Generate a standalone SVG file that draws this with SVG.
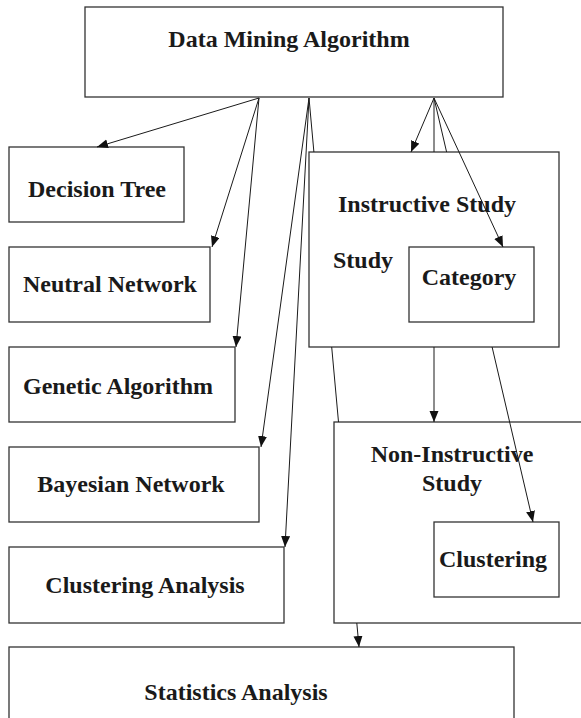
<svg xmlns="http://www.w3.org/2000/svg" width="581" height="718" viewBox="0 0 581 718">
  <style>
    .box { fill: #ffffff; stroke: #333333; stroke-width: 1.3; }
    .lbl { font-family: "Liberation Serif", "Times New Roman", serif; font-weight: bold; font-size: 24px; fill: #1a1a1a; text-anchor: middle; }
    .edge { fill: none; stroke: #1a1a1a; stroke-width: 1; }
  </style>
  <defs>
    <marker id="arrow" markerUnits="userSpaceOnUse" markerWidth="12" markerHeight="10" refX="11" refY="4.5" orient="auto">
      <path d="M0,0 L11,4.5 L0,9 z" fill="#111111"/>
    </marker>
  </defs>
  <rect width="581" height="718" fill="#ffffff"/>

  <g id="node-data-mining">
    <rect class="box" x="85" y="7" width="418" height="90"/>
    <text class="lbl" x="289" y="47">Data Mining Algorithm</text>
  </g>
  <g id="node-decision-tree">
    <rect class="box" x="9" y="147" width="175" height="75"/>
    <text class="lbl" x="97" y="197">Decision Tree</text>
  </g>
  <g id="node-neutral-network">
    <rect class="box" x="9" y="247" width="201" height="75"/>
    <text class="lbl" x="110" y="292">Neutral Network</text>
  </g>
  <g id="node-genetic">
    <rect class="box" x="9" y="347" width="226" height="75"/>
    <text class="lbl" x="118" y="394">Genetic Algorithm</text>
  </g>
  <g id="node-bayesian">
    <rect class="box" x="9" y="447" width="250" height="75"/>
    <text class="lbl" x="131" y="492">Bayesian Network</text>
  </g>
  <g id="node-clustering-analysis">
    <rect class="box" x="9" y="547" width="275" height="76"/>
    <text class="lbl" x="145" y="593">Clustering Analysis</text>
  </g>
  <g id="node-statistics">
    <rect class="box" x="9" y="647" width="505" height="80"/>
    <text class="lbl" x="236" y="700">Statistics Analysis</text>
  </g>
  <g id="node-instructive">
    <rect class="box" x="309" y="152" width="250" height="195"/>
    <text class="lbl" x="427" y="212">Instructive Study</text>
    <text class="lbl" x="363" y="268">Study</text>
  </g>
  <g id="node-category">
    <rect class="box" x="409" y="247" width="125" height="75"/>
    <text class="lbl" x="469" y="285">Category</text>
  </g>
  <g id="node-non-instructive">
    <rect class="box" x="334" y="422" width="252" height="201"/>
    <text class="lbl" x="452" y="462">Non-Instructive</text>
    <text class="lbl" x="452" y="491">Study</text>
  </g>
  <g id="node-clustering">
    <rect class="box" x="434" y="522" width="125" height="75"/>
    <text class="lbl" x="493" y="567">Clustering</text>
  </g>

  <g id="connectors">
    <!-- from the left source point -->
    <line class="edge" x1="259" y1="98" x2="97" y2="147" marker-end="url(#arrow)"/>
    <line class="edge" x1="259" y1="98" x2="212" y2="247" marker-end="url(#arrow)"/>
    <line class="edge" x1="259" y1="98" x2="236" y2="347" marker-end="url(#arrow)"/>
    <!-- from the middle source point -->
    <line class="edge" x1="309" y1="98" x2="261" y2="447" marker-end="url(#arrow)"/>
    <line class="edge" x1="309" y1="98" x2="285" y2="547" marker-end="url(#arrow)"/>
    <line class="edge" x1="309" y1="98" x2="313.9" y2="152"/>
    <line class="edge" x1="331.7" y1="347" x2="338.5" y2="422"/>
    <line class="edge" x1="356.8" y1="623" x2="359" y2="647" marker-end="url(#arrow)"/>
    <!-- from the right source point -->
    <line class="edge" x1="434" y1="98" x2="411" y2="152" marker-end="url(#arrow)"/>
    <line class="edge" x1="434" y1="98" x2="434" y2="152"/>
    <line class="edge" x1="434" y1="347" x2="434" y2="422" marker-end="url(#arrow)"/>
    <line class="edge" x1="434" y1="98" x2="446.6" y2="152"/>
    <line class="edge" x1="492.1" y1="347" x2="533" y2="522" marker-end="url(#arrow)"/>
    <line class="edge" x1="434" y1="98" x2="503" y2="247" marker-end="url(#arrow)"/>
  </g>
</svg>
